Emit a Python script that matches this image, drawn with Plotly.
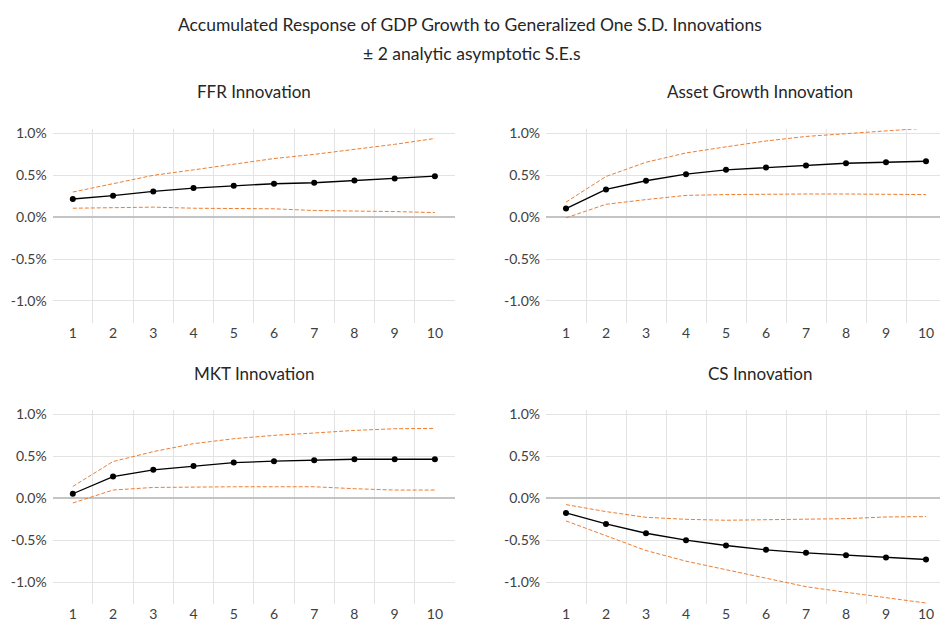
import plotly.graph_objects as go
from plotly.subplots import make_subplots

periods = [1, 2, 3, 4, 5, 6, 7, 8, 9, 10]

panel_titles = ["FFR Innovation", "Asset Growth Innovation", "MKT Innovation", "CS Innovation"]

# values in percent
ffr_resp = [0.217, 0.257, 0.308, 0.348, 0.375, 0.399, 0.411, 0.439, 0.462, 0.490]
ffr_upper = [0.30, 0.40, 0.50, 0.565, 0.63, 0.70, 0.75, 0.81, 0.87, 0.94]
ffr_lower = [0.107, 0.11, 0.12, 0.107, 0.107, 0.10, 0.08, 0.075, 0.067, 0.055]

asset_resp = [0.103, 0.332, 0.435, 0.514, 0.565, 0.593, 0.617, 0.644, 0.656, 0.668]
asset_upper = [0.18, 0.486, 0.656, 0.767, 0.84, 0.91, 0.964, 1.0, 1.03, 1.063]
asset_lower = [-0.008, 0.154, 0.21, 0.26, 0.27, 0.277, 0.277, 0.277, 0.277, 0.27]

mkt_resp = [0.055, 0.26, 0.34, 0.387, 0.427, 0.443, 0.455, 0.466, 0.466, 0.466]
mkt_upper = [0.142, 0.439, 0.557, 0.652, 0.711, 0.751, 0.779, 0.81, 0.83, 0.834]
mkt_lower = [-0.055, 0.099, 0.13, 0.138, 0.138, 0.138, 0.138, 0.115, 0.099, 0.099]

cs_resp = [-0.174, -0.305, -0.416, -0.499, -0.562, -0.614, -0.65, -0.677, -0.705, -0.729]
cs_upper = [-0.075, -0.158, -0.226, -0.25, -0.261, -0.257, -0.253, -0.242, -0.222, -0.218]
cs_lower = [-0.269, -0.444, -0.622, -0.749, -0.851, -0.95, -1.053, -1.12, -1.18, -1.248]

y_ticks = [-1.0, -0.5, 0.0, 0.5, 1.0]
x_ticks = periods

W, H = 940, 624
FONT = "Lato"
ORANGE = "#ED7D31"

panels = [
    (ffr_resp, ffr_upper, ffr_lower),
    (asset_resp, asset_upper, asset_lower),
    (mkt_resp, mkt_upper, mkt_lower),
    (cs_resp, cs_upper, cs_lower),
]

fig = make_subplots(rows=2, cols=2)

for i, (resp, up, lo) in enumerate(panels):
    r, c = i // 2 + 1, i % 2 + 1
    for band in (up, lo):
        fig.add_trace(go.Scatter(x=periods, y=band, mode="lines",
                                 line=dict(color=ORANGE, width=1, dash="4px,2px"),
                                 showlegend=False, hoverinfo="skip"), row=r, col=c)
    fig.add_trace(go.Scatter(x=periods, y=resp, mode="lines+markers",
                             line=dict(color="black", width=1.3),
                             marker=dict(color="black", size=6),
                             showlegend=False), row=r, col=c)

# pixel geometry
left_x = (52.7, 455.0)
right_x = (546.0, 940.0)
top_y = (125.0, 320.7)
bot_y = (408.3, 604.3)

def xdom(px):
    return [px[0] / W, px[1] / W]

def ydom(py):
    return [(H - py[1]) / H, (H - py[0]) / H]

geo = {
    1: (left_x, top_y, [0.5, 10.5]),
    2: (right_x, top_y, [0.5, 0.5 + (right_x[1] - right_x[0]) / 40.0]),
    3: (left_x, bot_y, [0.5, 10.5]),
    4: (right_x, bot_y, [0.5, 0.5 + (right_x[1] - right_x[0]) / 40.0]),
}

for k, (xp, yp, xr) in geo.items():
    sfx = "" if k == 1 else str(k)
    fig.layout["xaxis" + sfx].update(
        domain=xdom(xp), range=xr, tickvals=x_ticks, ticktext=[str(v) for v in x_ticks],
        showgrid=False, zeroline=False, showline=False, ticks="",
        tickfont=dict(family=FONT, size=14, color="#404040"),
        minor=dict(tickvals=[v + 0.5 for v in periods[:-1]], showgrid=True,
                   gridcolor="#e3e3e3", gridwidth=1, ticks=""),
        fixedrange=True,
    )
    fig.layout["yaxis" + sfx].update(
        domain=ydom(yp), range=[-1.265, 1.053], tickvals=y_ticks,
        ticktext=[f"{v:.1f}%" for v in y_ticks],
        showgrid=True, gridcolor="#e3e3e3", gridwidth=1,
        zeroline=True, zerolinecolor="#c4c4c4", zerolinewidth=1.6,
        showline=False, ticks="", ticklabelstandoff=5,
        tickfont=dict(family=FONT, size=14, color="#404040"),
        fixedrange=True,
    )

annotations = [
    dict(text="Accumulated Response of GDP Growth to Generalized One S.D. Innovations",
         x=470, y=20, size=17.5),
    dict(text="± 2 analytic asymptotic S.E.s", x=472, y=49, size=17.5),
    dict(text=panel_titles[0], x=254, y=87, size=17),
    dict(text=panel_titles[1], x=760, y=87, size=17),
    dict(text=panel_titles[2], x=254, y=371, size=17),
    dict(text=panel_titles[3], x=760, y=371, size=17),
]
fig.layout.annotations = []
for a in annotations:
    fig.add_annotation(text=a["text"], x=a["x"] / W, y=(H - a["y"]) / H,
                       xref="paper", yref="paper", xanchor="center", yanchor="middle",
                       showarrow=False, font=dict(family=FONT, size=a["size"], color="#262626"))

fig.update_layout(
    width=W, height=H, margin=dict(l=0, r=0, t=0, b=0),
    paper_bgcolor="white", plot_bgcolor="white",
    font=dict(family=FONT),
)

fig.write_html("out.html", post_script="document.body.style.margin='0';",
               config={"displayModeBar": False})
